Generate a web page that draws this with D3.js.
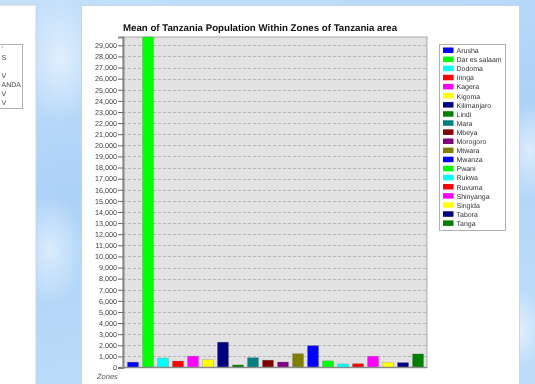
<!DOCTYPE html>
<html>
<head>
<meta charset="utf-8">
<script src="https://cdn.jsdelivr.net/npm/d3@7.9.0/dist/d3.min.js"></script>
<style>
  body { margin: 0; overflow: hidden; background: #b8daf8; }
  svg { display: block; font-family: "Liberation Sans", Arial, sans-serif; will-change: transform; }
  text { text-rendering: geometricPrecision; }
</style>
</head>
<body>
<script>
// zones and the mean population
const zones = ["Arusha", "Dar es salaam", "Dodoma", "Iringa", "Kagera", "Kigoma",
  "Kilimanjaro", "Lindi", "Mara", "Mbeya", "Morogoro", "Mtwara", "Mwanza",
  "Pwani", "Rukwa", "Ruvuma", "Shinyanga", "Singida", "Tabora", "Tanga"];
const meanPop = [480, 29750, 850, 580, 1020, 700, 2280, 230, 880, 660, 490,
  1240, 1960, 600, 320, 340, 1010, 460, 440, 1220];
const zoneColors = ["#0000ff", "#00ff00", "#00ffff", "#ff0000", "#ff00ff", "#ffff00",
  "#000080", "#008000", "#008080", "#800000", "#800080", "#808000", "#0000ff",
  "#00ff00", "#00ffff", "#ff0000", "#ff00ff", "#ffff00", "#000080", "#008000"];
const yTicks = d3.range(0, 30000, 1000);
// bits of the other window's legend that show on the left
const sideLegend = ["'", "S", "", "V", "ANDA", "V", "V"];

const W = 535, H = 384;
const svg = d3.select("body").append("svg")
    .attr("width", W)
    .attr("height", H);

// sky background
const defs = svg.append("defs");
const sky = defs.append("linearGradient").attr("id", "sky")
    .attr("x1", 0).attr("y1", 0).attr("x2", 0.3).attr("y2", 1);
sky.append("stop").attr("offset", "0%").attr("stop-color", "#c4e0fb");
sky.append("stop").attr("offset", "50%").attr("stop-color", "#acd2f7");
sky.append("stop").attr("offset", "100%").attr("stop-color", "#bcdcf9");
const cloud = defs.append("radialGradient").attr("id", "cloud");
cloud.append("stop").attr("offset", "0%").attr("stop-color", "#ffffff").attr("stop-opacity", 0.55);
cloud.append("stop").attr("offset", "100%").attr("stop-color", "#ffffff").attr("stop-opacity", 0);

svg.append("rect").attr("width", W).attr("height", H).attr("fill", "url(#sky)");
[[60, 60, 40], [50, 250, 35], [530, 150, 30], [520, 330, 25]].forEach(c => {
    svg.append("ellipse")
        .attr("cx", c[0]).attr("cy", c[1])
        .attr("rx", c[2]).attr("ry", c[2] * 1.6)
        .attr("fill", "url(#cloud)");
});

// left window (cut off)
svg.append("rect")
    .attr("x", -2).attr("y", 5).attr("width", 38).attr("height", 390)
    .attr("fill", "#ffffff").attr("stroke", "#c8d4e0");
svg.append("rect")
    .attr("x", -5).attr("y", 44.5).attr("width", 27.5).attr("height", 64)
    .attr("fill", "none").attr("stroke", "#b0b0b0");
svg.append("g").selectAll("text")
    .data(sideLegend)
    .join("text")
    .attr("x", 1.5)
    .attr("y", (d, i) => 50.5 + i * 9)
    .attr("font-size", 7)
    .attr("fill", "#444")
    .text(d => d);

// main window
svg.append("rect")
    .attr("x", 81.5).attr("y", 5.5).attr("width", 438).attr("height", 390)
    .attr("fill", "#ffffff").attr("stroke", "#c8d4e0");

svg.append("text")
    .attr("x", 260).attr("y", 31)
    .attr("text-anchor", "middle")
    .attr("font-size", 9.7)
    .attr("font-weight", "bold")
    .attr("fill", "#111")
    .text("Mean of Tanzania Population Within Zones of Tanzania area");

const plot = { left: 123, right: 427, top: 37, bottom: 367.5 };

const y = d3.scaleLinear()
    .domain([0, 29750])
    .range([plot.bottom, plot.top]);

const x = d3.scaleBand()
    .domain(zones)
    .range([plot.left + 3, plot.right - 2])
    .paddingInner(0.27)
    .paddingOuter(0.1);

svg.append("rect")
    .attr("x", plot.left).attr("y", plot.top)
    .attr("width", plot.right - plot.left).attr("height", plot.bottom - plot.top)
    .attr("fill", "#e2e2e2").attr("stroke", "#a8a8a8");

// dashed grid
svg.append("g").selectAll("line")
    .data(yTicks.slice(1))
    .join("line")
    .attr("x1", plot.left).attr("x2", plot.right)
    .attr("y1", d => Math.round(y(d)) + 0.5)
    .attr("y2", d => Math.round(y(d)) + 0.5)
    .attr("stroke", "#b4b4b4")
    .attr("stroke-dasharray", "3,2");

svg.append("g").selectAll("rect")
    .data(zones)
    .join("rect")
    .attr("x", d => x(d))
    .attr("y", (d, i) => y(meanPop[i]))
    .attr("width", x.bandwidth())
    .attr("height", (d, i) => plot.bottom - y(meanPop[i]))
    .attr("fill", (d, i) => zoneColors[i])
    .attr("stroke", "#555")
    .attr("stroke-opacity", 0.35)
    .attr("stroke-width", 0.6);

const yAxis = svg.append("g")
    .attr("transform", `translate(${plot.left},0)`)
    .call(d3.axisLeft(y).tickValues(yTicks).tickSize(5).tickPadding(1).tickFormat(d3.format(",")));
yAxis.select(".domain").attr("stroke", "#8a8a8a").attr("stroke-width", 2);
yAxis.selectAll(".tick line").attr("stroke", "#666");
yAxis.selectAll(".tick text")
    .attr("font-size", 7.2)
    .attr("fill", "#444")
    .attr("font-family", "Liberation Sans, Arial, sans-serif");

svg.append("line")
    .attr("x1", plot.left).attr("x2", plot.right)
    .attr("y1", plot.bottom).attr("y2", plot.bottom)
    .attr("stroke", "#8a8a8a").attr("stroke-width", 1.5);

svg.append("text")
    .attr("x", 97).attr("y", 379)
    .attr("font-size", 7.5)
    .attr("font-style", "italic")
    .attr("fill", "#555")
    .text("Zones");

// legend
const legend = svg.append("g");
legend.append("rect")
    .attr("x", 439.5).attr("y", 44.5).attr("width", 66).attr("height", 186)
    .attr("fill", "#ffffff").attr("stroke", "#b0b0b0");
const item = legend.selectAll("g.item")
    .data(zones)
    .join("g")
    .attr("class", "item")
    .attr("transform", (d, i) => `translate(443,${47.5 + i * 9.1})`);
item.append("rect")
    .attr("width", 10.5).attr("height", 5.5)
    .attr("fill", (d, i) => zoneColors[i]);
item.append("text")
    .attr("x", 13.5).attr("y", 5.5)
    .attr("font-size", 7)
    .attr("fill", "#333")
    .text(d => d);
</script>
</body>
</html>
